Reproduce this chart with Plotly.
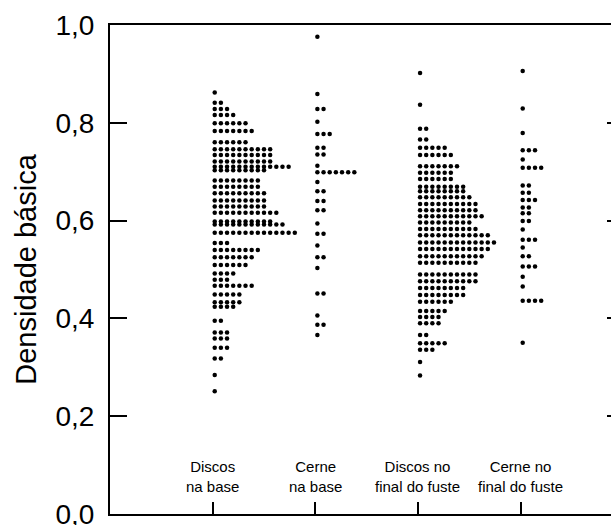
import plotly.graph_objects as go

# Group labels (x-axis categories)
groups = ["Discos<br>na base", "Cerne<br>na base", "Discos no<br>final do fuste", "Cerne no<br>final do fuste"]

# Dot-plot rows for each group: basic density level and number of stacked dots
discos_base_levels = [0.862, 0.841, 0.828, 0.816, 0.799, 0.783, 0.760, 0.746, 0.734, 0.721,
                      0.710, 0.703, 0.682, 0.669, 0.656, 0.641, 0.629, 0.616, 0.598, 0.592,
                      0.575, 0.554, 0.540, 0.525, 0.509, 0.492, 0.479, 0.467, 0.449, 0.433,
                      0.424, 0.395, 0.371, 0.359, 0.340, 0.318, 0.284, 0.251]
discos_base_counts = [1, 2, 3, 4, 6, 7, 6, 10, 10, 10,
                      13, 9, 8, 8, 9, 9, 9, 11, 10, 12,
                      14, 3, 8, 7, 6, 4, 3, 7, 5, 5,
                      4, 2, 3, 3, 3, 2, 1, 1]

cerne_base_levels = [0.976, 0.859, 0.828, 0.802, 0.777, 0.749, 0.735, 0.712, 0.699, 0.679,
                     0.660, 0.640, 0.621, 0.594, 0.573, 0.549, 0.525, 0.503, 0.451, 0.406,
                     0.387, 0.366]
cerne_base_counts = [1, 1, 2, 1, 3, 2, 2, 1, 7, 1,
                     2, 2, 2, 1, 2, 1, 2, 1, 2, 1,
                     2, 1]

discos_topo_levels = [0.902, 0.837, 0.788, 0.766, 0.749, 0.734, 0.711, 0.698, 0.685, 0.669,
                      0.660, 0.648, 0.634, 0.621, 0.609, 0.596, 0.583, 0.570, 0.555, 0.542,
                      0.527, 0.514, 0.490, 0.476, 0.462, 0.448, 0.434, 0.415, 0.403, 0.390,
                      0.366, 0.349, 0.336, 0.311, 0.283]
discos_topo_counts = [1, 1, 2, 2, 5, 6, 7, 6, 6, 8,
                      8, 9, 10, 10, 11, 9, 10, 12, 13, 12,
                      11, 10, 10, 10, 8, 8, 6, 5, 4, 4,
                      2, 5, 3, 1, 1]

cerne_topo_levels = [0.906, 0.829, 0.779, 0.744, 0.725, 0.708, 0.672, 0.657, 0.642, 0.627,
                     0.615, 0.599, 0.582, 0.561, 0.545, 0.527, 0.506, 0.485, 0.465, 0.436,
                     0.350]
cerne_topo_counts = [1, 1, 1, 3, 1, 4, 2, 2, 3, 2,
                     2, 2, 1, 3, 1, 2, 3, 1, 1, 4,
                     1]

# y-axis ticks
y_ticks = [0.0, 0.2, 0.4, 0.6, 0.8, 1.0]

series = [
    (discos_base_levels, discos_base_counts),
    (cerne_base_levels, cerne_base_counts),
    (discos_topo_levels, discos_topo_counts),
    (cerne_topo_levels, cerne_topo_counts),
]

# horizontal stacking of tied dots, in x-axis units
first_offset = 0.02
dot_step = 0.06

fig = go.Figure()
for gi, (levels, counts) in enumerate(series):
    xs, ys = [], []
    for lev, n in zip(levels, counts):
        for k in range(n):
            xs.append(gi + first_offset + k * dot_step)
            ys.append(lev)
    fig.add_trace(go.Scatter(
        x=xs, y=ys, mode="markers",
        marker=dict(color="black", size=4.5, line=dict(width=0)),
        showlegend=False, hoverinfo="skip",
    ))

# invisible trace so the right-hand tick axis is drawn
fig.add_trace(go.Scatter(x=[None], y=[None], yaxis="y2", showlegend=False))

font_family = "Liberation Sans, Arial, sans-serif"

# group names sit inside the frame, just above the bottom ticks
for gi, name in enumerate(groups):
    fig.add_annotation(
        x=gi, xref="x", y=0.076, yref="paper",
        text=name, showarrow=False, align="center",
        xanchor="center", yanchor="middle",
        font=dict(size=15, family=font_family, color="black"),
    )

fig.update_layout(
    width=611, height=525,
    margin=dict(l=110, r=0, t=25, b=11, autoexpand=False),
    paper_bgcolor="white", plot_bgcolor="white",
    separators=",.",
    font=dict(family=font_family, color="black"),
    xaxis=dict(
        range=[-1.0, 3.88], automargin=False,
        tickmode="array", tickvals=[0, 1, 2, 3], showticklabels=False,
        ticks="inside", ticklen=12, tickwidth=1.5, tickcolor="black",
        showline=True, linecolor="black", linewidth=2, mirror=True,
        showgrid=False, zeroline=False,
    ),
    yaxis=dict(
        range=[0.0, 1.0], automargin=False,
        tickmode="array", tickvals=y_ticks, tickformat=".1f",
        ticks="inside", ticklen=17, tickwidth=1.5, tickcolor="black",
        tickfont=dict(size=28, family=font_family),
        ticklabelstandoff=8, ticklabeloverflow="allow",
        showline=True, linecolor="black", linewidth=2,
        showgrid=False, zeroline=False,
        title=dict(text="Densidade básica", font=dict(size=29, family=font_family), standoff=10),
    ),
    yaxis2=dict(
        range=[0.0, 1.0], overlaying="y", side="right", automargin=False,
        tickmode="array", tickvals=y_ticks[1:-1],
        ticks="inside", ticklen=4, tickwidth=1.5, tickcolor="black",
        showticklabels=False, showline=False, showgrid=False, zeroline=False,
    ),
)

fig.write_html("out.html")
